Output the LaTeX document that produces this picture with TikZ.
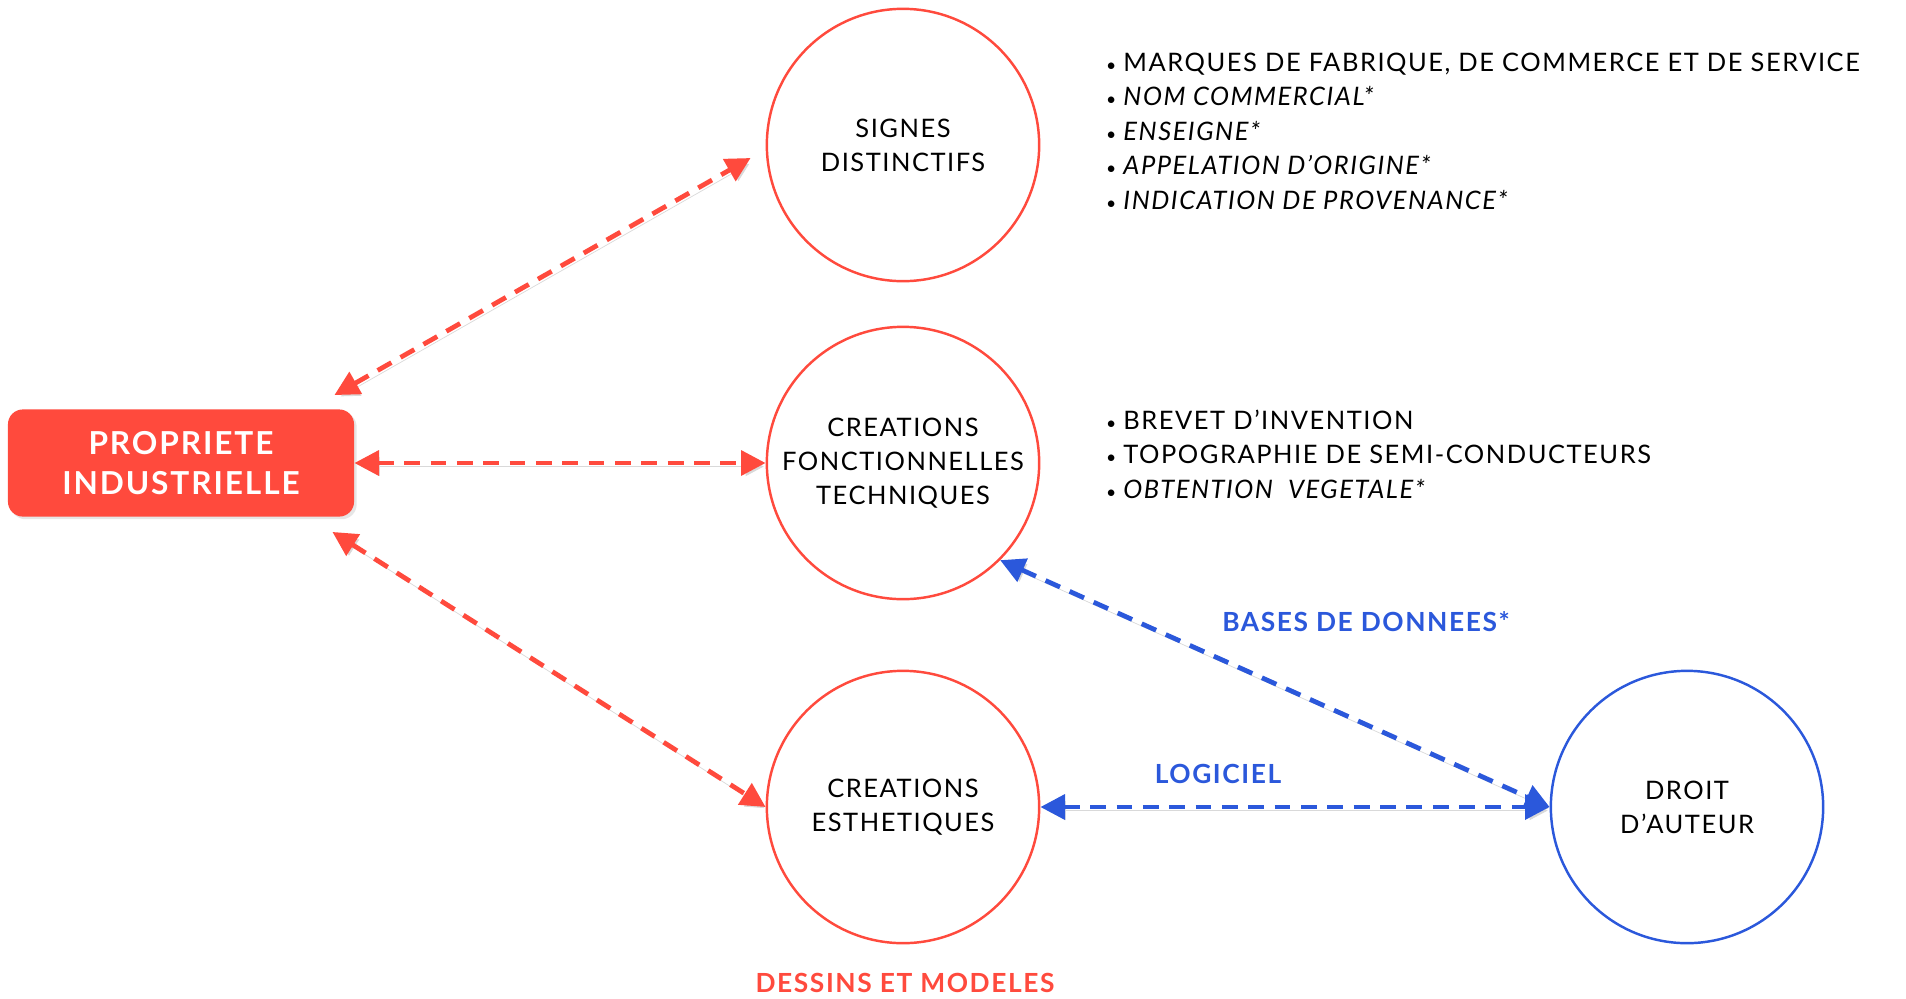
\documentclass[tikz,border=0pt]{standalone}
\usepackage{fontspec}
\setmainfont{Lato}[LetterSpace=6]
\usetikzlibrary{arrows.meta,positioning,shadows}
\definecolor{rouge}{RGB}{255,74,61}
\definecolor{bleu}{RGB}{43,88,219}
\newcommand{\puce}{{\fontsize{10}{10}\selectfont•}\hspace{4pt}}
\tikzset{
  cercle/.style={circle,draw=#1,line width=1.4pt,minimum size=155pt,inner sep=0pt,align=center,
    font=\fontsize{14.5}{19.5}\selectfont},
  boite/.style={fill=rouge,rounded corners=8.5pt,minimum width=197pt,minimum height=61pt,align=center,
    text=white,font=\bfseries\fontsize{18}{23}\selectfont,drop shadow={opacity=0.2,shadow xshift=1.5pt,shadow yshift=-1.5pt}},
  fleche/.style={draw=#1,line width=2.7pt,dash pattern=on 9pt off 6pt,
    {Triangle[length=14pt,width=14pt]}-{Triangle[length=14pt,width=14pt]}},
  ombre/.style={preaction={draw=black!15,transform canvas={shift={(1.5pt,-2pt)}}}},
  liste/.style={anchor=base west,font=\fontsize{14.5}{19.5}\selectfont},
  etiquette/.style={font=\bfseries\fontsize{15}{18}\selectfont}
}

\begin{document}
\begin{tikzpicture}[x=0.02cm,y=-0.02cm]
  \useasboundingbox (0,0) rectangle (1906,998);

  \node[boite] (pi) at (181,463) {PROPRIETE\\INDUSTRIELLE};
  \node[cercle=rouge] (sd) at (903,145) {SIGNES\\DISTINCTIFS};
  \node[cercle=rouge] (cft) at (903,463) {CREATIONS\\FONCTIONNELLES\\TECHNIQUES};
  \node[cercle=rouge] (ce) at (903,807) {CREATIONS\\ESTHETIQUES};
  \node[cercle=bleu] (da) at (1687,807) {DROIT\\D’AUTEUR};

  % listes
  \foreach \t [count=\i] in {{MARQUES DE FABRIQUE, DE COMMERCE ET DE SERVICE},
      {\itshape NOM COMMERCIAL*},{\itshape ENSEIGNE*},
      {\itshape APPELATION D’ORIGINE*},{\itshape INDICATION DE PROVENANCE*}}
    \node[liste] (sd\i) at (1100,{71+34.6*(\i-1)}) {\puce\t};
  \foreach \t [count=\i] in {{BREVET D’INVENTION},{TOPOGRAPHIE DE SEMI-CONDUCTEURS},
      {\itshape OBTENTION\ \ VEGETALE*}}
    \node[liste] (cft\i) at (1100,{429+34.8*(\i-1)}) {\puce\t};

  \node[etiquette,text=bleu] (bdd) at (1366,622) {BASES DE DONNEES*};
  \node[etiquette,text=bleu] (logi) at (1218,774) {LOGICIEL};
  \node[etiquette,text=rouge] (dm) at (905,983) {DESSINS ET MODELES};

  \draw[fleche=rouge,ombre] ([shift={(-20,-14)}]pi.north east) -- ([shift={(-15,13)}]sd.west);
  \draw[fleche=rouge,ombre] (pi.east) -- (cft.west);
  \draw[fleche=rouge,ombre] ([shift={(-22,15)}]pi.south east) -- (ce.west);
  \draw[fleche=bleu,ombre] (cft.-45) -- (da.west);
  \draw[fleche=bleu,ombre] (ce.east) -- (da.west);
\end{tikzpicture}
\end{document}
